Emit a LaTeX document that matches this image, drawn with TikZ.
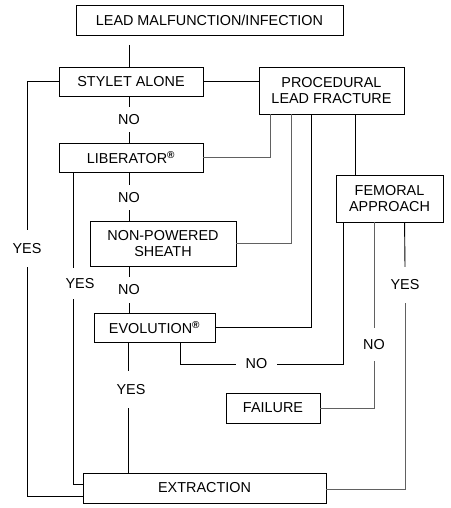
\documentclass[tikz,border=0pt]{standalone}
\usepackage{fontspec}
\setmainfont{Liberation Sans}
\usetikzlibrary{calc}
\begin{document}
\begin{tikzpicture}[x=1pt,y=-1pt,
  box/.style={draw=black,line width=0.9pt,inner sep=0pt,align=center,font=\fontsize{14.4}{16.5}\selectfont},
  lbl/.style={inner sep=0pt,font=\fontsize{14.4}{16.5}\selectfont},
  ln/.style={draw=black,line width=0.9pt},
  gln/.style={draw=black!62,line width=0.9pt}]
\useasboundingbox (0,0) rectangle (450,508);
% boxes
\node[box,minimum width=267pt,minimum height=30pt] (top) at (209.5,20) {LEAD MALFUNCTION/INFECTION};
\node[box,minimum width=144pt,minimum height=29pt] (sty) at (131,81.5) {STYLET ALONE};
\node[box,minimum width=145pt,minimum height=47pt] (proc) at (331.5,90.5) {PROCEDURAL\\LEAD FRACTURE};
\node[box,minimum width=144pt,minimum height=29pt] (lib) at (131,157.5) {LIBERATOR\textsuperscript{\bfseries ®}};
\node[box,minimum width=146pt,minimum height=45pt] (nps) at (163,243.5) {NON-POWERED\\SHEATH};
\node[box,minimum width=121pt,minimum height=29pt] (evo) at (154.5,327.5) {EVOLUTION\textsuperscript{\bfseries ®}};
\node[box,minimum width=107pt,minimum height=47pt] (fem) at (389.5,198.5) {FEMORAL\\APPROACH};
\node[box,minimum width=94pt,minimum height=30pt] (fail) at (273,408) {FAILURE};
\node[box,minimum width=243pt,minimum height=30pt] (ext) at (204.5,488) {EXTRACTION};
% labels
\node[lbl,minimum height=25pt] (no1) at (129,119.5) {NO};
\node[lbl,minimum height=25pt] (no2) at (129,197.5) {NO};
\node[lbl,minimum height=26pt] (no3) at (129,290) {NO};
\node[lbl,minimum height=37pt] (yesO) at (27,248.5) {YES};
\node[lbl,minimum height=31pt] (yesL) at (80,283.5) {YES};
\node[lbl,minimum height=37pt] (yesE) at (131,389.5) {YES};
\node[lbl,minimum height=36pt] (yesR) at (405,285) {YES};
\node[lbl,minimum height=33pt] (noR) at (374,344.5) {NO};
\node[lbl,minimum width=41pt] (noB) at (256.5,364) {NO};
% coordinates
\coordinate (t1) at (129,45);
\coordinate (p1) at ($(proc.south west)+(12,0)$);
\coordinate (p2) at ($(proc.south west)+(33,0)$);
\coordinate (p3) at ($(proc.south west)+(53,0)$);
\coordinate (p4) at ($(proc.south west)+(97,0)$);
\coordinate (f1) at ($(fem.south west)+(8,0)$);
\coordinate (f2) at ($(fem.south west)+(39,0)$);
\coordinate (f3) at ($(fem.south west)+(69,0)$);
\coordinate (l1) at ($(lib.south west)+(15,0)$);
\coordinate (e1) at ($(evo.south west)+(87,0)$);
\coordinate (e2) at ($(evo.south west)+(35,0)$);
% connectors
\draw[ln] (t1) -- (t1 |- sty.north);
\draw[ln] (sty.east) -- (sty.east -| proc.west);
\draw[ln] (no1.north |- sty.south) -- (no1.north);
\draw[ln] (no1.south) -- (no1.south |- lib.north);
\draw[ln] (no2.north |- lib.south) -- (no2.north);
\draw[ln] (no2.south) -- (no2.south |- nps.north);
\draw[ln] (no3.north |- nps.south) -- (no3.north);
\draw[ln] (no3.south) -- (no3.south |- evo.north);
\draw[gln] (lib.east) -| (p1);
\draw[gln] (nps.east) -| (p2);
\draw[ln] (evo.east) -| (p3);
\draw[ln] (p4) -- (p4 |- fem.north);
\draw[ln] (f1) |- (noB.east);
\draw[ln] (noB.west) -| (e1);
\draw[gln] (f2) -- (f2 |- noR.north);
\draw[gln] (f2 |- noR.south) |- (fail.east);
\draw[ln] (f3) -- (yesR.north);
\draw[gln] (yesR.south) |- ($(ext.east)+(0,1)$);
\draw[ln] (e2) -- (e2 |- yesE.north);
\draw[ln] (e2 |- yesE.south) -- (e2 |- ext.north);
\draw[ln] (l1) -- (l1 |- yesL.north);
\draw[ln] (l1 |- yesL.south) |- ($(ext.west)+(0,-4)$);
\draw[ln] (sty.west) -| (yesO.north);
\draw[ln] (yesO.south) |- ($(ext.west)+(0,8)$);
\end{tikzpicture}
\end{document}
